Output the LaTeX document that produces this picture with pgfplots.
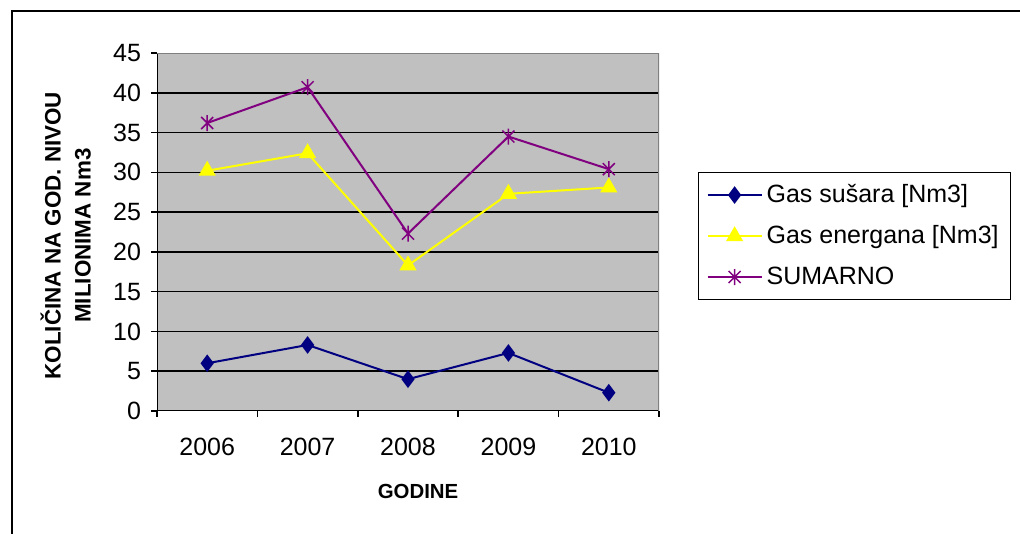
\documentclass[border=0pt]{standalone}
\usepackage{fontspec}
\setmainfont{Liberation Sans}
\usepackage{pgfplots}
\pgfplotsset{compat=1.18}
\definecolor{bg}{HTML}{C0C0C0}
\definecolor{navyc}{HTML}{000080}
\definecolor{yel}{HTML}{FFFF00}
\definecolor{purp}{HTML}{800080}
\pgfdeclareplotmark{xstar}{%
  \pgfpathmoveto{\pgfqpoint{0pt}{\pgfplotmarksize}}%
  \pgfpathlineto{\pgfqpoint{0pt}{-\pgfplotmarksize}}%
  \pgfpathmoveto{\pgfqpoint{-.75\pgfplotmarksize}{.75\pgfplotmarksize}}%
  \pgfpathlineto{\pgfqpoint{.75\pgfplotmarksize}{-.75\pgfplotmarksize}}%
  \pgfpathmoveto{\pgfqpoint{-.75\pgfplotmarksize}{-.75\pgfplotmarksize}}%
  \pgfpathlineto{\pgfqpoint{.75\pgfplotmarksize}{.75\pgfplotmarksize}}%
  \pgfusepathqstroke}
\begin{document}
\begin{tikzpicture}
\path[use as bounding box] (0,0) rectangle (510pt,267pt);
\draw[line width=1pt] (6pt,0) -- (6pt,261.5pt) -- (510pt,261.5pt);
\begin{axis}[
  at={(78.5pt,61.5pt)}, anchor=south west,
  scale only axis, width=251pt, height=179pt,
  xmin=0.5, xmax=5.5, ymin=0, ymax=45,
  xtick={1,2,3,4,5},
  xticklabels={2006,2007,2008,2009,2010},
  minor xtick={0.5,1.5,2.5,3.5,4.5,5.5},
  ytick={0,5,...,45},
  extra y ticks={5,10,...,40},
  extra y tick style={grid=major, major tick length=0pt, yticklabels={}},
  major grid style={black, line width=0.75pt},
  tick align=outside,
  x tick style={draw=none},
  minor x tick style={draw=black, line width=0.75pt},
  y tick style={black, line width=0.75pt},
  major tick length=3pt, minor tick length=3pt,
  tick pos=left,
  axis line style={draw=none},
  axis background/.style={fill=bg},
  /pgf/number format/assume math mode=true,
  ticklabel style={font=\fontsize{12.5}{15}\selectfont},
  xticklabel style={yshift=-7pt},
  yticklabel style={xshift=-1.5pt},
  xlabel={GODINE},
  xlabel style={at={(rel axis cs:0.52,-0.226)}, anchor=center, font=\fontsize{10.2}{12}\selectfont\bfseries},
  ylabel={KOLIČINA NA GOD. NIVOU\\MILIONIMA Nm3},
  ylabel style={at={(rel axis cs:-0.182,0.49)}, anchor=center, align=center, font=\fontsize{11.2}{15}\selectfont\bfseries},
  legend cell align=left,
  legend style={at={(rel axis cs:1.0777,0.668)}, anchor=north west, draw=black, line width=0.6pt,
    font=\fontsize{12.5}{15}\selectfont, inner xsep=4pt, inner ysep=4pt, row sep=6pt},
  legend image code/.code={\draw[mark repeat=2,mark phase=2] plot coordinates {(0pt,0pt) (13.5pt,0pt) (27pt,0pt)};},
]
\draw[black, line width=0.75pt] (rel axis cs:0,1) -- (rel axis cs:0,0) -- (rel axis cs:1,0);
\draw[gray, line width=0.6pt] (rel axis cs:0,1) -- (rel axis cs:1,1) -- (rel axis cs:1,0);
\addplot[navyc, line width=1pt, mark=diamond*, mark size=3.6pt, mark options={solid, fill=navyc}]
  coordinates {(1,6.0) (2,8.3) (3,4.0) (4,7.3) (5,2.3)};
\addlegendentry{Gas sušara [Nm3]}
\addplot[yel, line width=1pt, mark=triangle*, mark size=4pt, mark options={solid, fill=yel}]
  coordinates {(1,30.2) (2,32.4) (3,18.3) (4,27.3) (5,28.1)};
\addlegendentry{Gas energana [Nm3]}
\addplot[purp, line width=1pt, mark=xstar, mark size=4pt, mark options={solid, line width=0.75pt}]
  coordinates {(1,36.2) (2,40.7) (3,22.3) (4,34.5) (5,30.4)};
\addlegendentry{SUMARNO}
\end{axis}
\end{tikzpicture}
\end{document}
